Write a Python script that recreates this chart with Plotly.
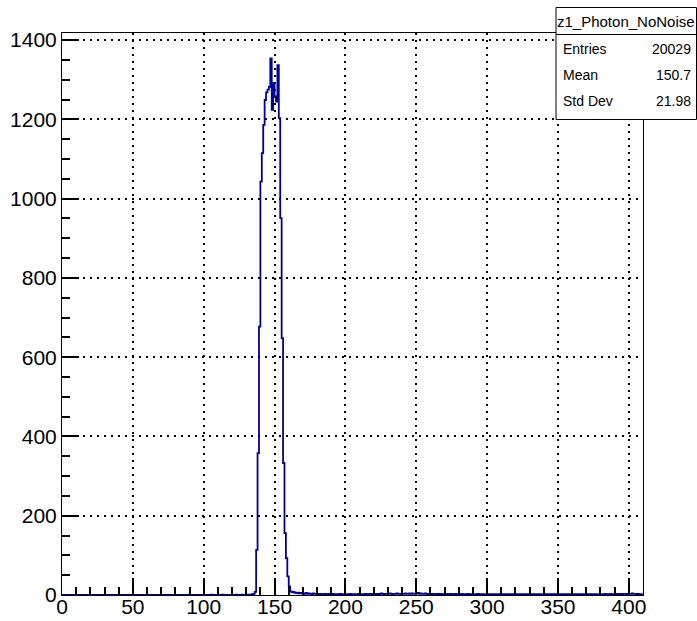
import plotly.graph_objects as go

# ---- data (bin contents, 1-unit bins from 0 to 410) ----
bin_low = 0
bin_width = 1
counts = [
    # 0-19
    0,0,0,0,0,0,0,0,0,0, 0,0,0,0,0,0,0,0,0,0,
    # 20-39
    0,0,0,0,0,0,0,0,0,0, 0,0,0,0,0,0,0,0,0,0,
    # 40-59
    0,0,0,0,0,0,0,0,0,0, 0,0,0,0,0,0,0,0,0,0,
    # 60-79
    0,0,0,0,0,0,0,0,0,0, 0,0,0,0,0,0,0,0,0,0,
    # 80-99
    0,0,0,0,0,0,0,0,0,1, 0,0,0,0,0,0,0,0,0,0,
    # 100-119
    0,0,0,0,0,1,0,0,0,0, 0,0,0,1,0,0,0,0,0,0,
    # 120-136
    0,0,0,1,0,0,0,1,0,0, 1,0,1,1,2,3,8,
    # 137-159 (peak)
    114,358,677,1043,1115,1186,1249,1268,1275,1282,
    1354,1224,1292,1258,1245,1337,1203,951,648,333,
    156,93,47,
    # 160-169
    22,9,7,8,6,5,6,4,5,4,
    # 170-179
    4,3,5,3,4,3,2,4,3,3,
    # 180-189
    3,2,3,2,2,3,2,2,3,2,
    # 190-199
    2,3,2,2,1,2,3,2,2,1,
    # 200-209
    2,2,1,3,2,2,1,2,2,3,
    # 210-219
    2,1,2,2,3,2,2,3,2,2,
    # 220-229
    3,2,3,2,3,4,3,2,3,3,
    # 230-239
    3,4,3,2,3,3,4,3,3,2,
    # 240-249
    3,3,4,3,3,4,3,4,3,3,
    # 250-259
    4,5,3,4,3,3,4,3,2,3,
    # 260-269
    3,2,3,3,2,3,2,3,2,2,
    # 270-279
    2,3,2,2,3,2,2,3,2,2,
    # 280-289
    2,2,3,2,2,2,3,2,2,2,
    # 290-299
    2,2,2,3,2,2,1,2,2,2,
    # 300-309
    2,2,1,2,2,2,2,1,2,2,
    # 310-319
    2,1,2,2,2,1,2,2,1,2,
    # 320-329
    2,2,1,2,2,1,2,2,2,1,
    # 330-339
    2,1,2,2,1,2,2,1,2,2,
    # 340-349
    1,2,2,1,2,2,1,2,2,1,
    # 350-359
    2,2,1,2,2,1,2,2,2,1,
    # 360-369
    2,1,2,2,1,2,2,2,1,2,
    # 370-379
    2,2,1,2,2,2,1,2,2,2,
    # 380-389
    2,2,2,3,2,2,2,3,2,2,
    # 390-399
    2,3,2,2,3,2,3,3,2,3,
    # 400-409
    3,3,4,3,3,2,3,2,2,1,
]

x_tick_step = 50
y_tick_step = 200
x_minor_step = 10
y_minor_step = 50
x_range = [0, 410]
y_range = [0, 1418]

hist_name = "z1_Photon_NoNoise"
stat_labels = ["Entries", "Mean", "Std Dev"]
stat_values = ["20029", "150.7", "21.98"]

# ---- figure geometry ----
W, H = 697, 621
L, R, T, B = 62, 697 - 643, 33, 621 - 595
PW, PH = W - L - R, H - T - B

def px_x(px):
    return (px - L) / PW

def px_y(py):
    return (H - B - py) / PH

edges = [bin_low + i * bin_width for i in range(len(counts) + 1)]
ys = counts + [counts[-1]]

fig = go.Figure()
fig.add_trace(go.Scatter(
    x=edges, y=ys, mode="lines", line_shape="hv",
    line=dict(color="#000099", width=1.8), hoverinfo="skip", showlegend=False,
))

font_family = "Liberation Sans, Arial, Helvetica, sans-serif"
axis_common = dict(
    showline=True, linecolor="black", linewidth=1, mirror=True,
    ticks="inside", ticklen=17, tickwidth=1.5, tickcolor="black",
    showgrid=True, gridcolor="black", gridwidth=1.5, griddash="2px,5px",
    zeroline=False, automargin=False, tickmode="linear", tick0=0,
    tickfont=dict(family=font_family, size=21, color="black"),
)

fig.update_xaxes(range=x_range, dtick=x_tick_step, ticklabelstandoff=-7,
                 minor=dict(ticks="inside", ticklen=8, dtick=x_minor_step, tick0=0,
                            tickcolor="black", tickwidth=1.5, showgrid=False),
                 **axis_common)
fig.update_yaxes(range=y_range, dtick=y_tick_step,
                 minor=dict(ticks="inside", ticklen=8, dtick=y_minor_step, tick0=0,
                            tickcolor="black", tickwidth=1.5, showgrid=False),
                 **axis_common)

# ---- stats box ----
bx0, bx1, by0, by1, bsep = 556, 696.5, 7.5, 119.5, 34.5
fig.add_shape(type="rect", xref="paper", yref="paper",
              x0=px_x(bx0), x1=px_x(bx1), y0=px_y(by1), y1=px_y(by0),
              line=dict(color="black", width=1), fillcolor="white", layer="above")
fig.add_shape(type="line", xref="paper", yref="paper",
              x0=px_x(bx0), x1=px_x(bx1), y0=px_y(bsep), y1=px_y(bsep),
              line=dict(color="black", width=1), layer="above")
fig.add_annotation(xref="paper", yref="paper", x=px_x((bx0 + bx1) / 2), y=px_y(21),
                   text=hist_name, showarrow=False, xanchor="center", yanchor="middle",
                   font=dict(family=font_family, size=15, color="black"))
row_y = [49, 75, 101]
for lab, val, ry in zip(stat_labels, stat_values, row_y):
    fig.add_annotation(xref="paper", yref="paper", x=px_x(561), y=px_y(ry),
                       text=lab, showarrow=False, xanchor="left", yanchor="middle",
                       font=dict(family=font_family, size=14, color="black"))
    fig.add_annotation(xref="paper", yref="paper", x=px_x(693), y=px_y(ry),
                       text=val, showarrow=False, xanchor="right", yanchor="middle",
                       font=dict(family=font_family, size=14, color="black"))

fig.update_layout(
    width=W, height=H, autosize=False,
    margin=dict(l=L, r=R, t=T, b=B, pad=0, autoexpand=False),
    paper_bgcolor="white", plot_bgcolor="white",
    showlegend=False,
)

fig.write_html("out.html")
